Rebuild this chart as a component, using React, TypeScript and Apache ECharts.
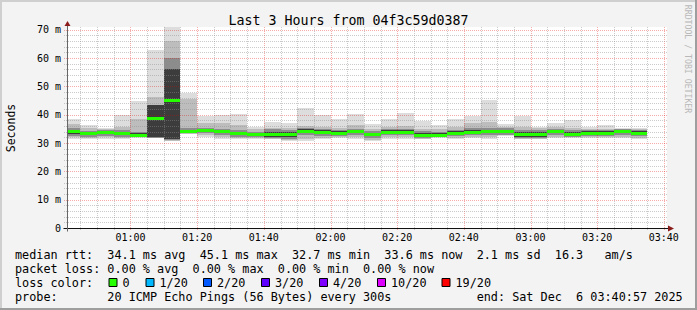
import React, { useEffect, useRef } from 'react';
import * as echarts from 'echarts';

// ---------- texts ----------
const TITLE = 'Last 3 Hours from 04f3c59d0387';
const Y_NAME = 'Seconds';
const WATERMARK = 'RRDTOOL / TOBI OETIKER';

// ---------- axes (minutes since 00:00) ----------
const X_START = 40.95; // 00:40:57
const X_END = 220.95; // 03:40:57
const Y_MAX = 71.0;
const FIRST_BIN_START = 40;
const BIN_MINUTES = 5;

const xMajorTicks = [60, 80, 100, 120, 140, 160, 180, 200, 220];
const xTickLabels = ['01:00', '01:20', '01:40', '02:00', '02:20', '02:40', '03:00', '03:20', '03:40'];
const xMinorStep = 5;
const yMajorTicks = [0, 10, 20, 30, 40, 50, 60, 70];
const yTickLabels = ['0', '10 m', '20 m', '30 m', '40 m', '50 m', '60 m', '70 m'];
const yMinorStep = 2;

// ---------- smoke data per 5-minute bin (ms) ----------
const medianRtt = [34.1, 33.5, 33.9, 33.6, 32.9, 38.7, 45.2, 34.1, 34.7, 34.2, 33.5, 33.1, 33.3, 33.3, 34.4, 34.0, 33.7, 34.2, 33.2, 34.0, 34.0, 32.9, 32.9, 33.7, 34.0, 34.2, 34.2, 33.3, 33.3, 34.2, 33.3, 33.7, 33.7, 34.2, 33.7];
const maxRtt = [38.4, 36.3, 35.3, 40.0, 44.9, 62.9, 71.0, 47.6, 39.4, 40.0, 40.4, 35.8, 37.3, 37.0, 42.3, 40.0, 38.4, 40.1, 36.8, 38.6, 40.5, 37.8, 36.3, 38.4, 39.6, 45.3, 36.8, 39.7, 35.7, 37.0, 38.0, 35.6, 36.3, 35.4, 35.4];
const upper2 = [36.6, 35.4, 35.0, 35.8, 38.5, 46.1, 66.2, 45.5, 37.0, 37.0, 36.5, 35.0, 35.5, 35.2, 36.2, 35.8, 35.5, 36.5, 35.0, 35.8, 36.0, 35.0, 34.8, 35.8, 37.0, 37.5, 35.8, 35.8, 35.2, 35.8, 35.2, 35.0, 35.0, 35.0, 35.0];
const upper3 = [35.2, 34.4, 34.6, 34.5, 33.8, 43.4, 60.0, 35.4, 35.5, 35.0, 34.5, 34.0, 34.8, 34.6, 35.2, 35.0, 34.6, 35.0, 34.2, 35.0, 35.0, 34.2, 33.8, 34.6, 35.2, 35.2, 35.2, 34.5, 34.6, 35.0, 34.5, 34.6, 34.6, 35.0, 34.6];
const upper4 = [34.6, 34.0, 34.4, 34.0, 33.4, 43.4, 56.1, 34.6, 35.0, 34.6, 34.0, 33.6, 34.0, 34.0, 34.8, 34.5, 34.2, 34.7, 33.7, 34.5, 34.5, 33.6, 33.4, 34.2, 34.5, 34.7, 34.7, 33.8, 34.0, 34.7, 33.8, 34.2, 34.2, 34.7, 34.2];
const lower4 = [33.2, 32.8, 33.2, 32.8, 32.3, 32.0, 31.5, 33.6, 33.8, 33.4, 32.8, 32.5, 32.2, 32.0, 33.4, 33.2, 33.0, 33.5, 32.4, 33.3, 33.3, 32.2, 32.3, 33.0, 33.3, 33.4, 33.6, 32.2, 32.3, 33.4, 32.4, 33.0, 33.0, 33.6, 33.0];
const lower3 = [32.6, 32.3, 32.6, 32.3, 32.0, 31.9, 31.0, 33.4, 33.4, 32.8, 32.3, 32.0, 31.8, 31.5, 32.8, 32.6, 32.5, 32.8, 31.8, 32.7, 32.7, 31.8, 32.0, 32.5, 32.7, 32.8, 33.0, 31.8, 31.8, 32.8, 32.0, 32.5, 32.5, 33.0, 32.5];
const lower2 = [32.0, 31.8, 32.0, 31.8, 32.0, 31.9, 30.9, 33.3, 32.8, 32.0, 31.8, 31.7, 31.5, 31.0, 31.5, 31.8, 32.2, 32.0, 31.2, 32.0, 32.0, 31.6, 32.0, 31.8, 32.2, 32.0, 32.8, 31.6, 31.6, 32.3, 32.2, 32.2, 32.2, 32.3, 31.8];
const minRtt = [31.3, 31.3, 31.5, 31.3, 31.9, 31.9, 30.7, 33.3, 32.3, 31.3, 31.3, 31.3, 31.3, 30.7, 30.7, 31.3, 31.9, 31.3, 30.7, 31.3, 31.3, 31.3, 31.9, 31.3, 31.9, 31.3, 32.5, 31.3, 31.3, 31.9, 31.9, 31.9, 31.9, 31.9, 31.3];

// ---------- legend ----------
const legendLine1 = 'median rtt:  34.1 ms avg  45.1 ms max  32.7 ms min  33.6 ms now  2.1 ms sd  16.3   am/s';
const legendLine2 = 'packet loss: 0.00 % avg  0.00 % max  0.00 % min  0.00 % now';
const legendLine3 = 'loss color:';
const legendLine4 = 'probe:       20 ICMP Echo Pings (56 Bytes) every 300s            end: Sat Dec  6 03:40:57 2025';
const lossLabels = ['0', '1/20', '2/20', '3/20', '4/20', '10/20', '19/20'];
const lossColors = ['#26ff00', '#00b8ff', '#0059ff', '#5e00ff', '#7e00ff', '#dd00ff', '#ff0000'];

// ---------- styles ----------
const MONO = 'DejaVu Sans Mono';
const SMOKE_COLORS = ['#dddddd', '#bdbdbd', '#8c8c8c', '#3c3c3c'];
const MEDIAN_COLOR = '#26ff00';
const MINOR_GRID = 'rgba(140,140,140,0.45)';
const MAJOR_GRID = 'rgba(235,0,0,0.33)';
const ARROW_COLOR = '#8b1c1c';

export default function App() {
  const ref = useRef<HTMLDivElement>(null);

  useEffect(() => {
    document.body.style.margin = '0';
    if (!ref.current) return;
    const chart = echarts.init(ref.current, undefined, { renderer: 'svg' });

    const binStarts = medianRtt.map((_, i) => FIRST_BIN_START + i * BIN_MINUTES);
    const smokeData = binStarts.map((s, i) => [
      s, s + BIN_MINUTES, minRtt[i], lower2[i], lower3[i], lower4[i], upper4[i], upper3[i], upper2[i], maxRtt[i], medianRtt[i],
    ]);

    const gridData: number[][] = [];
    for (let v = FIRST_BIN_START + xMinorStep; v < X_END; v += xMinorStep) {
      if (v <= X_START) continue;
      gridData.push([0, v, xMajorTicks.includes(v) ? 1 : 0]);
    }
    for (let v = yMinorStep; v <= Y_MAX; v += yMinorStep) {
      gridData.push([1, v, yMajorTicks.includes(v) ? 1 : 0]);
    }

    const legendTexts = [legendLine1, legendLine2, legendLine3, legendLine4];
    const legendY = [254.5, 268.5, 282.5, 296.5];
    const legendLabelX = [122.5, 159.5, 217, 275, 333, 391, 455.5];
    const legendFont = `11.8px "${MONO}"`;

    const graphic: any[] = [
      { type: 'rect', shape: { x: 0, y: 0, width: 697, height: 2 }, style: { fill: '#cfcfcf' }, silent: true },
      { type: 'rect', shape: { x: 0, y: 0, width: 2, height: 310 }, style: { fill: '#cfcfcf' }, silent: true },
      { type: 'rect', shape: { x: 0, y: 308, width: 697, height: 2 }, style: { fill: '#9e9e9e' }, silent: true },
      { type: 'rect', shape: { x: 695, y: 0, width: 2, height: 310 }, style: { fill: '#9e9e9e' }, silent: true },
      {
        type: 'text', x: 348.5, y: 20,
        style: { text: TITLE, font: `13.3px "${MONO}"`, fill: '#000', align: 'center', verticalAlign: 'middle' },
      },
      {
        type: 'text', x: 11, y: 128, rotation: Math.PI / 2,
        style: { text: Y_NAME, font: `11.5px "${MONO}"`, fill: '#000', align: 'center', verticalAlign: 'middle' },
      },
      {
        type: 'text', x: 687.5, y: 59, rotation: -Math.PI / 2,
        style: { text: WATERMARK, font: `8.2px "${MONO}"`, fill: '#b8b8b8', align: 'center', verticalAlign: 'middle' },
      },
    ];
    legendTexts.forEach((t, i) => {
      graphic.push({
        type: 'text', x: 15, y: legendY[i],
        style: { text: t, font: legendFont, fill: '#000', align: 'left', verticalAlign: 'middle' },
      });
    });
    lossLabels.forEach((lab, i) => {
      graphic.push({
        type: 'rect', shape: { x: legendLabelX[i] - 14 + 0.5, y: 278.5, width: 8, height: 8 },
        style: { fill: lossColors[i], stroke: '#000', lineWidth: 1 },
      });
      graphic.push({
        type: 'text', x: legendLabelX[i], y: legendY[2],
        style: { text: lab, font: legendFont, fill: '#000', align: 'left', verticalAlign: 'middle' },
      });
    });

    const option: any = {
      animation: false,
      backgroundColor: '#f3f3f3',
      grid: { left: 67, right: 30, top: 27, bottom: 82, show: true, backgroundColor: '#ffffff', borderWidth: 0 },
      xAxis: {
        type: 'value', min: X_START, max: X_END,
        axisLine: { show: false }, axisTick: { show: false }, splitLine: { show: false },
        axisLabel: {
          customValues: xMajorTicks,
          formatter: (v: number) => xTickLabels[xMajorTicks.indexOf(Math.round(v))] ?? '',
          fontFamily: MONO, fontSize: 10, color: '#000', margin: 4,
        },
      },
      yAxis: {
        type: 'value', min: 0, max: Y_MAX,
        axisLine: { show: false }, axisTick: { show: false }, splitLine: { show: false },
        axisLabel: {
          customValues: yMajorTicks,
          formatter: (v: number) => yTickLabels[yMajorTicks.indexOf(Math.round(v))] ?? '',
          fontFamily: MONO, fontSize: 10, color: '#000', margin: 6,
        },
      },
      graphic,
      series: [
        {
          type: 'custom', name: 'smoke', z: 2, data: smokeData,
          encode: { x: [0, 1], y: [2, 9] },
          renderItem: (_p: any, api: any) => {
            const left = api.coord([X_START, 0])[0];
            const x0 = Math.round(Math.max(api.coord([api.value(0), 0])[0], left));
            const x1 = Math.round(api.coord([api.value(1), 0])[0]);
            const band = (lo: number, hi: number, color: string) => {
              const yTop = Math.round(api.coord([0, hi])[1]);
              const yBot = Math.round(api.coord([0, lo])[1]);
              return { type: 'rect', shape: { x: x0, y: yTop, width: x1 - x0, height: Math.max(yBot - yTop, 1) }, style: { fill: color } };
            };
            return {
              type: 'group',
              children: [
                band(api.value(2), api.value(9), SMOKE_COLORS[0]),
                band(api.value(3), api.value(8), SMOKE_COLORS[1]),
                band(api.value(4), api.value(7), SMOKE_COLORS[2]),
                band(api.value(5), api.value(6), SMOKE_COLORS[3]),
              ],
            };
          },
        },
        {
          type: 'custom', name: 'grid', z: 3, data: gridData, silent: true,
          renderItem: (_p: any, api: any) => {
            const o = api.value(0), v = api.value(1), major = api.value(2);
            const style = { stroke: major ? MAJOR_GRID : MINOR_GRID, lineWidth: 1, lineDash: [1, 1], fill: null };
            if (o === 0) {
              const p0 = api.coord([v, 0]);
              const p1 = api.coord([v, Y_MAX]);
              const x = Math.round(p0[0]) + 0.5;
              return { type: 'line', shape: { x1: x, y1: p0[1] + 2, x2: x, y2: p1[1] }, style };
            }
            const p0 = api.coord([X_START, v]);
            const p1 = api.coord([X_END, v]);
            const y = Math.round(p0[1]) + 0.5;
            return { type: 'line', shape: { x1: p0[0] - 3, y1: y, x2: p1[0] + 1, y2: y }, style };
          },
        },
        {
          type: 'custom', name: 'median', z: 4, data: smokeData,
          encode: { x: [0, 1], y: 10 },
          renderItem: (_p: any, api: any) => {
            const left = api.coord([X_START, 0])[0];
            const x0 = Math.round(Math.max(api.coord([api.value(0), 0])[0], left));
            const x1 = Math.round(api.coord([api.value(1), 0])[0]);
            const y = Math.round(api.coord([0, api.value(10)])[1]);
            return { type: 'rect', shape: { x: x0, y: y - 1, width: x1 - x0, height: 3 }, style: { fill: MEDIAN_COLOR } };
          },
        },
        {
          type: 'custom', name: 'axes', z: 5, data: [[0]], silent: true,
          renderItem: (_p: any, api: any) => {
            const o = api.coord([X_START, 0]);
            const xe = api.coord([X_END, 0]);
            const ye = api.coord([X_START, Y_MAX]);
            const ox = Math.round(o[0]) + 0.5;
            const oy = Math.round(o[1]) + 0.5;
            return {
              type: 'group',
              children: [
                { type: 'line', shape: { x1: ox - 4, y1: oy, x2: xe[0] + 1, y2: oy }, style: { stroke: '#111', lineWidth: 1 } },
                { type: 'line', shape: { x1: ox, y1: oy + 3, x2: ox, y2: ye[1] - 1 }, style: { stroke: '#666', lineWidth: 1 } },
                {
                  type: 'polygon',
                  shape: { points: [[xe[0] + 1, oy - 3], [xe[0] + 7, oy], [xe[0] + 1, oy + 3]] },
                  style: { fill: ARROW_COLOR },
                },
                {
                  type: 'polygon',
                  shape: { points: [[ox - 3, ye[1] - 1], [ox, ye[1] - 6], [ox + 3, ye[1] - 1]] },
                  style: { fill: ARROW_COLOR },
                },
              ],
            };
          },
        },
      ],
    };

    chart.setOption(option);
    return () => chart.dispose();
  }, []);

  return <div ref={ref} style={{ width: 697, height: 310 }} />;
}
